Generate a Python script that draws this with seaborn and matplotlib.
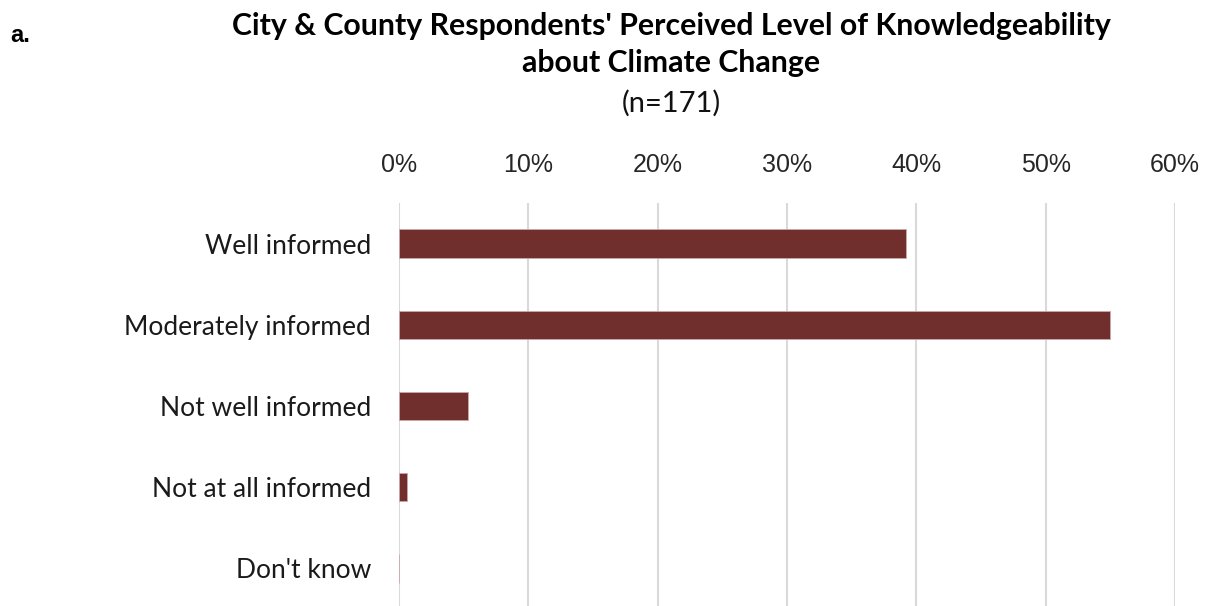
import matplotlib
matplotlib.use("Agg")
import matplotlib.pyplot as plt
import seaborn as sns
import pandas as pd
from matplotlib.ticker import FuncFormatter

categories = ["Well informed", "Moderately informed", "Not well informed",
              "Not at all informed", "Don't know"]
percent = [39.2, 55.0, 5.3, 0.6, 0.0]
tick_values = [0, 10, 20, 30, 40, 50, 60]

sns.set_theme(style="white")
plt.rcParams['font.family'] = ['Lato', 'DejaVu Sans']

df = pd.DataFrame({"category": categories, "percent": percent})

fig = plt.figure(figsize=(12.07, 6.06), dpi=100)
ax = fig.add_axes([399/1207, -3/606, 776/1207, 406/606])

sns.barplot(data=df, x="percent", y="category", orient="h", ax=ax,
            color="#702E2D", width=0.35, saturation=1,
            edgecolor="#c9a9a9", linewidth=0.6, zorder=3)

ax.set_xlim(0, 60)
ax.set_xticks(tick_values)
ax.xaxis.set_major_formatter(FuncFormatter(lambda v, p: f"{v:.0f}%"))
ax.xaxis.tick_top()
ax.xaxis.set_label_position("top")
ax.set_xlabel("")
ax.set_ylabel("")
ax.grid(axis="x", color="#d9d9d9", linewidth=1.5, zorder=0)
ax.grid(axis="y", visible=False)
for s in ax.spines.values():
    s.set_visible(False)
ax.tick_params(axis="x", length=0, pad=19, labelsize=18, labelcolor="#262626")
for lbl in ax.get_xticklabels():
    lbl.set_family(["Liberation Sans", "DejaVu Sans"])
ax.tick_params(axis="y", length=0, pad=20, labelsize=19, labelcolor="#1a1a1a")

fig.text(671/1207, 1 - 26/606, "City & County Respondents' Perceived Level of Knowledgeability",
         ha="center", va="center", fontsize=21.8, fontweight="bold", color="#000000")
fig.text(671/1207, 1 - 63/606, "about Climate Change",
         ha="center", va="center", fontsize=21.8, fontweight="bold", color="#000000")
fig.text(671/1207, 1 - 103/606, "(n=171)",
         ha="center", va="center", fontsize=21, color="#111111")
fig.text(10/1207, 1 - 36/606, "a.", ha="left", va="center", fontsize=17,
         fontweight="bold", family=["Liberation Sans", "DejaVu Sans"], color="#000000")

fig.savefig("out.png", dpi=100)
